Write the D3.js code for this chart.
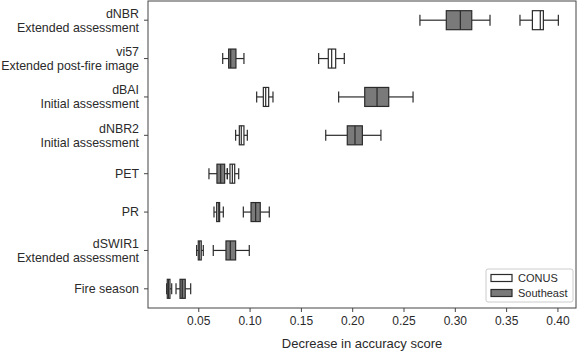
<!DOCTYPE html>
<html>
<head>
<meta charset="utf-8">
<script src="https://cdn.jsdelivr.net/npm/d3@7"></script>
<style>
    body { margin: 0; background: #fff; }
    text { font-family: "Liberation Sans", Arial, sans-serif; fill: #2a2a2a; }
</style>
</head>
<body>
<div id="chart"></div>
<script>
// feature names, top to bottom (second line is optional)
const categories = [
    ["dNBR", "Extended assessment"],
    ["vi57", "Extended post-fire image"],
    ["dBAI", "Initial assessment"],
    ["dNBR2", "Initial assessment"],
    ["PET"],
    ["PR"],
    ["dSWIR1", "Extended assessment"],
    ["Fire season"]
];

// [whisker low, q1, median, q3, whisker high]
const conusStats = [
    [0.3635, 0.3756, 0.3833, 0.3863, 0.4009],
    [0.1673, 0.1767, 0.1800, 0.1839, 0.1923],
    [0.1069, 0.1134, 0.1157, 0.1186, 0.1228],
    [0.0864, 0.0900, 0.0919, 0.0945, 0.0978],
    [0.0783, 0.0809, 0.0832, 0.0855, 0.0894],
    [0.0653, 0.0679, 0.0695, 0.0708, 0.0744],
    [0.0484, 0.0500, 0.0514, 0.0529, 0.0549],
    [0.0192, 0.0198, 0.0211, 0.0224, 0.0241]
];

const southeastStats = [
    [0.2660, 0.2917, 0.3054, 0.3165, 0.3343],
    [0.0738, 0.0796, 0.0816, 0.0867, 0.0945],
    [0.1868, 0.2122, 0.2242, 0.2356, 0.2593],
    [0.1742, 0.1952, 0.2027, 0.2099, 0.2280],
    [0.0604, 0.0682, 0.0718, 0.0757, 0.0783],
    [0.0939, 0.1014, 0.1059, 0.1104, 0.1192],
    [0.0646, 0.0770, 0.0812, 0.0864, 0.0997],
    [0.0283, 0.0322, 0.0344, 0.0373, 0.0426]
];

const xTicks = [0.05, 0.10, 0.15, 0.20, 0.25, 0.30, 0.35, 0.40];
const seriesNames = ["CONUS", "Southeast"];
const seriesFill = ["#ffffff", "#7a7a7a"];

const width = 579, height = 353;
const margin = {top: 1, right: 3, bottom: 45, left: 148};

const svg = d3.select('#chart').append('svg')
    .attr('width', width)
    .attr('height', height);

const xScale = d3.scaleLinear()
    .domain([0.001, 0.4181])
    .range([margin.left, width - margin.right]);

const yScale = d3.scalePoint()
    .domain(d3.range(categories.length))
    .range([margin.top, height - margin.bottom])
    .padding(0.5);

const boxHeight = 19;
const capHeight = 11;
const strokeCol = "#2b2b2b";

// frame
svg.append('rect')
    .attr('x', margin.left)
    .attr('y', margin.top)
    .attr('width', width - margin.right - margin.left)
    .attr('height', height - margin.bottom - margin.top)
    .attr('fill', 'none')
    .attr('stroke', '#444')
    .attr('stroke-width', 1);

// x axis
const xAxis = d3.axisBottom(xScale)
    .tickValues(xTicks)
    .tickSize(4)
    .tickPadding(4)
    .tickFormat(d3.format('.2f'));

svg.append('g')
    .attr('transform', `translate(0,${height - margin.bottom})`)
    .call(xAxis)
    .call(g => g.select('.domain').remove())
    .call(g => g.selectAll('line').attr('stroke', '#444'))
    .call(g => g.selectAll('text')
        .style('font-family', '"Liberation Sans", Arial, sans-serif')
        .style('font-size', '12px')
        .attr('fill', '#2a2a2a'));

svg.append('text')
    .attr('x', (margin.left + width - margin.right) / 2)
    .attr('y', 348)
    .attr('text-anchor', 'middle')
    .style('font-size', '13px')
    .text('Decrease in accuracy score');

// y axis ticks and two-line labels
const yAxisG = svg.append('g');
yAxisG.selectAll('line')
    .data(categories)
    .join('line')
    .attr('x1', margin.left - 4)
    .attr('x2', margin.left)
    .attr('y1', (d, i) => yScale(i))
    .attr('y2', (d, i) => yScale(i))
    .attr('stroke', '#444');

yAxisG.selectAll('text')
    .data(categories)
    .join('text')
    .attr('text-anchor', 'end')
    .style('font-size', '12.4px')
    .attr('transform', (d, i) => `translate(${margin.left - 9},${yScale(i)})`)
    .each(function (d) {
        const t = d3.select(this);
        const offset = d.length === 1 ? 0 : -7;
        d.forEach((line, j) => {
            t.append('tspan')
                .attr('x', 0)
                .attr('y', offset + j * 14)
                .attr('dy', '0.35em')
                .text(line);
        });
    });

// boxes
function drawBoxes(stats, fill) {
    const g = svg.append('g');
    const box = g.selectAll('.box')
        .data(stats)
        .join('g')
        .attr('class', 'box')
        .attr('transform', (d, i) => `translate(0,${yScale(i)})`);

    // whiskers
    box.append('line')
        .attr('x1', d => xScale(d[0]))
        .attr('x2', d => xScale(d[1]))
        .attr('stroke', strokeCol).attr('stroke-width', 1.2);
    box.append('line')
        .attr('x1', d => xScale(d[3]))
        .attr('x2', d => xScale(d[4]))
        .attr('stroke', strokeCol).attr('stroke-width', 1.2);
    // caps
    [0, 4].forEach(k => {
        box.append('line')
            .attr('x1', d => xScale(d[k]))
            .attr('x2', d => xScale(d[k]))
            .attr('y1', -capHeight / 2)
            .attr('y2', capHeight / 2)
            .attr('stroke', strokeCol).attr('stroke-width', 1.2);
    });
    // box body
    box.append('rect')
        .attr('x', d => xScale(d[1]))
        .attr('width', d => xScale(d[3]) - xScale(d[1]))
        .attr('y', -boxHeight / 2)
        .attr('height', boxHeight)
        .attr('fill', fill)
        .attr('stroke', strokeCol)
        .attr('stroke-width', 1.2);
    // median
    box.append('line')
        .attr('x1', d => xScale(d[2]))
        .attr('x2', d => xScale(d[2]))
        .attr('y1', -boxHeight / 2)
        .attr('y2', boxHeight / 2)
        .attr('stroke', strokeCol).attr('stroke-width', 1.2);
}

drawBoxes(southeastStats, seriesFill[1]);
drawBoxes(conusStats, seriesFill[0]);

// legend
const legend = svg.append('g')
    .attr('transform', 'translate(486,269)');

legend.append('rect')
    .attr('width', 87)
    .attr('height', 33)
    .attr('rx', 2)
    .attr('fill', '#fff')
    .attr('stroke', '#ccc');

const legendItem = legend.selectAll('.legend-item')
    .data(seriesNames)
    .join('g')
    .attr('class', 'legend-item')
    .attr('transform', (d, i) => `translate(5,${9 + i * 15})`);

legendItem.append('rect')
    .attr('x', 0)
    .attr('y', -3.5)
    .attr('width', 21)
    .attr('height', 7)
    .attr('fill', (d, i) => seriesFill[i])
    .attr('stroke', strokeCol)
    .attr('stroke-width', 1.2);

legendItem.append('text')
    .attr('x', 27)
    .attr('dy', '0.35em')
    .style('font-size', '11px')
    .text(d => d);
</script>
</body>
</html>
